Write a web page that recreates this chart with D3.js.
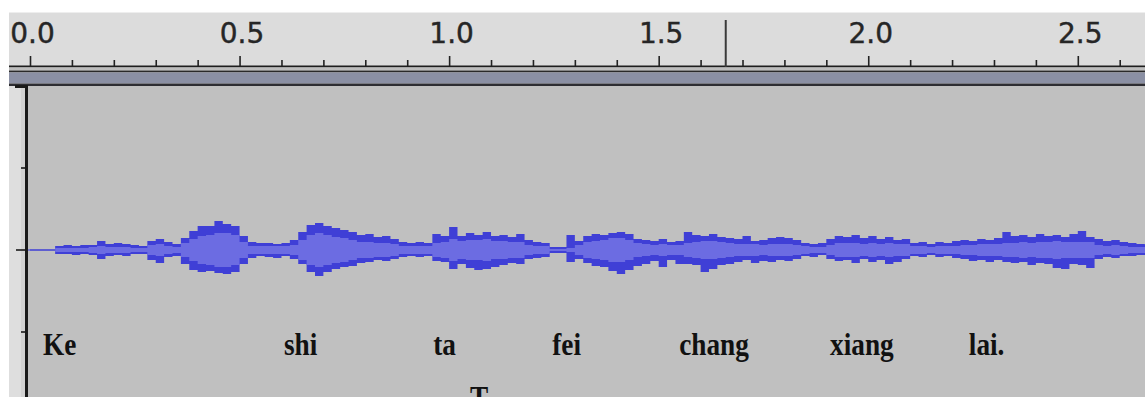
<!DOCTYPE html>
<html>
<head>
<meta charset="utf-8">
<script src="https://cdn.jsdelivr.net/npm/d3@7"></script>
<style>
  html, body { margin: 0; padding: 0; background: #fff; }
  svg { display: block; }
</style>
</head>
<body>
<svg id="chart" width="1145" height="397"></svg>
<script>
// Ruler ticks (seconds)
const majorTicks = [0, 0.5, 1.0, 1.5, 2.0, 2.5];
const tickLabels = ["0.0", "0.5", "1.0", "1.5", "2.0", "2.5"];
const minorTicks = [0.1, 0.2, 0.3, 0.4, 0.6, 0.7, 0.8, 0.9, 1.1, 1.2, 1.3, 1.4, 1.6, 1.7, 1.8, 1.9, 2.1, 2.2, 2.3, 2.4, 2.6];
const cursorTime = 1.66;

// Amplitude ticks
const ampTicks = [1, 0.5, 0, -0.5, -1];

// Waveform envelope, one value per 0.02 s block
const sampleStep = 0.02;
const peakMax = [
  .003, .003, .003, .024, .030, .024, .030, .030, .055, .037,
  .043, .037, .030, .024, .055, .067, .049, .037, .073, .116,
  .146, .146, .177, .159, .146, .085, .049, .043, .043, .037,
  .043, .061, .110, .152, .165, .146, .134, .122, .110, .091,
  .098, .079, .085, .067, .049, .043, .049, .043, .098, .085,
  .140, .085, .104, .091, .110, .085, .091, .079, .098, .061,
  .049, .043, .018, .018, .091, .055, .085, .098, .091, .104,
  .110, .098, .067, .061, .055, .067, .049, .055, .110, .091,
  .085, .098, .079, .073, .067, .085, .055, .061, .073, .079,
  .073, .061, .043, .037, .043, .067, .085, .079, .091, .073,
  .085, .067, .079, .061, .067, .043, .049, .037, .049, .043,
  .055, .061, .055, .067, .061, .073, .110, .085, .091, .079,
  .098, .085, .091, .079, .098, .116, .079, .067, .055, .061,
  .049, .043, .037, .030
];
const peakMin = [
  -.003, -.003, -.003, -.024, -.024, -.030, -.024, -.030, -.055, -.037,
  -.030, -.037, -.024, -.024, -.061, -.079, -.043, -.037, -.085, -.122,
  -.134, -.128, -.140, -.146, -.134, -.085, -.049, -.037, -.043, -.049,
  -.037, -.055, -.085, -.134, -.159, -.134, -.116, -.104, -.098, -.079,
  -.073, -.061, -.067, -.055, -.043, -.037, -.043, -.037, -.067, -.073,
  -.116, -.085, -.110, -.122, -.116, -.104, -.091, -.079, -.085, -.055,
  -.049, -.043, -.018, -.018, -.073, -.055, -.079, -.098, -.104, -.128,
  -.146, -.122, -.098, -.085, -.067, -.104, -.061, -.085, -.085, -.091,
  -.134, -.116, -.091, -.085, -.073, -.061, -.079, -.067, -.073, -.061,
  -.067, -.055, -.037, -.043, -.030, -.055, -.067, -.061, -.079, -.055,
  -.073, -.061, -.085, -.073, -.055, -.037, -.043, -.030, -.043, -.037,
  -.049, -.055, -.067, -.061, -.073, -.061, -.073, -.079, -.073, -.091,
  -.079, -.085, -.110, -.116, -.085, -.091, -.110, -.055, -.043, -.049,
  -.037, -.037, -.030, -.030
];
const rms = [
  0, 0, 0, .012, .012, .012, .012, .018, .024, .018,
  .018, .018, .012, .012, .030, .037, .024, .018, .043, .067,
  .085, .091, .104, .104, .091, .049, .024, .024, .024, .024,
  .024, .030, .061, .091, .104, .091, .079, .073, .061, .049,
  .049, .043, .043, .037, .024, .024, .024, .024, .043, .049,
  .067, .055, .061, .061, .067, .055, .055, .049, .049, .030,
  .024, .024, .006, .006, .012, .030, .049, .055, .061, .073,
  .073, .061, .043, .037, .030, .037, .030, .030, .043, .049,
  .055, .055, .049, .043, .037, .037, .037, .030, .037, .037,
  .037, .030, .024, .018, .018, .030, .043, .043, .043, .037,
  .043, .037, .043, .037, .037, .024, .024, .018, .024, .024,
  .024, .030, .030, .037, .037, .037, .043, .043, .049, .043,
  .049, .049, .055, .049, .049, .049, .049, .030, .024, .030,
  .024, .018, .018, .018
];

// Syllable annotations (time in seconds where the word starts)
const syllables = ["Ke", "shi", "ta", "fei", "chang", "xiang", "lai."];
const syllableTimes = [0.031, 0.606, 0.962, 1.246, 1.549, 1.909, 2.24];

const W = 1145, H = 397;
const svg = d3.select("#chart");

const x = d3.scaleLinear().domain([0, 2.5]).range([30, 1077.8]);
const y = d3.scaleLinear().domain([-1, 1]).range([414, 86]);

// ---- backgrounds
svg.append("rect").attr("width", W).attr("height", H).attr("fill", "#ffffff");
svg.append("rect").attr("x", 9).attr("y", 12).attr("width", W - 9).attr("height", 1)
  .attr("fill", "#eeeeee");
svg.append("rect").attr("x", 9).attr("y", 13).attr("width", W - 9).attr("height", 53)
  .attr("fill", "#dcdcdc");
// track area
svg.append("rect").attr("x", 9).attr("y", 86).attr("width", 18).attr("height", H - 86)
  .attr("fill", "#dedede");
svg.append("rect").attr("x", 21).attr("y", 86).attr("width", 4).attr("height", H - 86)
  .attr("fill", "#d2d2d2");
svg.append("rect").attr("x", 27).attr("y", 86).attr("width", W - 27).attr("height", H - 86)
  .attr("fill", "#c0c0c0");

// ---- ruler bands
svg.append("rect").attr("x", 9).attr("y", 65.5).attr("width", W - 9).attr("height", 2).attr("fill", "#1e1e1e");
svg.append("rect").attr("x", 9).attr("y", 67.5).attr("width", W - 9).attr("height", 3).attr("fill", "#bdbdbd");
svg.append("rect").attr("x", 9).attr("y", 70.5).attr("width", W - 9).attr("height", 2).attr("fill", "#2a2a2a");
svg.append("rect").attr("x", 9).attr("y", 72.5).attr("width", W - 9).attr("height", 11).attr("fill", "#8b90a4");
svg.append("rect").attr("x", 9).attr("y", 83.5).attr("width", W - 9).attr("height", 2.5).attr("fill", "#2e2e33");

// ---- ruler axis
const majorAxis = d3.axisTop(x).tickValues(majorTicks).tickSize(10).tickFormat("");
const minorAxis = d3.axisTop(x).tickValues(minorTicks).tickSize(6).tickFormat("");
[majorAxis, minorAxis].forEach(ax => {
  const g = svg.append("g").attr("transform", "translate(0,66)").call(ax);
  g.select(".domain").remove();
  g.selectAll(".tick line").attr("stroke", "#222").attr("stroke-width", 1.6);
});

svg.append("g").selectAll("text")
  .data(majorTicks)
  .join("text")
  .attr("x", d => x(d) + 2.5)
  .attr("y", 43)
  .attr("text-anchor", "middle")
  .attr("font-family", "DejaVu Sans, sans-serif")
  .attr("font-size", 28)
  .attr("fill", "#262626")
  .attr("stroke", "#262626")
  .attr("stroke-width", 0.4)
  .text((d, i) => tickLabels[i]);

// play cursor
svg.append("line")
  .attr("x1", x(cursorTime)).attr("x2", x(cursorTime))
  .attr("y1", 20).attr("y2", 67)
  .attr("stroke", "#3a3a3a").attr("stroke-width", 2);

// ---- waveform
const blocks = peakMax.map((v, i) => ({ t: i * sampleStep, max: v, min: peakMin[i], rms: rms[i] }));
const lastBlock = blocks[blocks.length - 1];
blocks.push({ ...lastBlock, t: blocks.length * sampleStep });

svg.append("defs").append("clipPath").attr("id", "trackClip")
  .append("rect").attr("x", 28).attr("y", 86).attr("width", W - 28).attr("height", H - 86);

const wave = svg.append("g").attr("clip-path", "url(#trackClip)");

const peakArea = d3.area()
  .curve(d3.curveStepAfter)
  .x(d => x(d.t))
  .y0(d => y(d.min))
  .y1(d => y(d.max));

const rmsArea = d3.area()
  .curve(d3.curveStepAfter)
  .x(d => x(d.t))
  .y0(d => y(-d.rms))
  .y1(d => y(d.rms));

wave.append("line")
  .attr("x1", 27).attr("x2", W)
  .attr("y1", y(0)).attr("y2", y(0))
  .attr("stroke", "#3f3fd6").attr("stroke-width", 1.2);

wave.append("path").datum(blocks).attr("d", peakArea).attr("fill", "#3f3fd6");
wave.append("path").datum(blocks).attr("d", rmsArea).attr("fill", "#6c6ce2");

// ---- amplitude axis (left)
svg.append("rect").attr("x", 15).attr("y", 85).attr("width", 12).attr("height", 3).attr("fill", "#1a1a1a");
svg.append("rect").attr("x", 25).attr("y", 85).attr("width", 3).attr("height", H - 85).attr("fill", "#1a1a1a");
svg.append("g").selectAll("line")
  .data(ampTicks.filter(d => y(d) > 100 && y(d) < H))
  .join("line")
  .attr("x1", d => d === 0 ? 16 : 21)
  .attr("x2", 27)
  .attr("y1", d => y(d)).attr("y2", d => y(d))
  .attr("stroke", "#1a1a1a").attr("stroke-width", 1.6);

// ---- syllable labels (condensed serif, like the original)
svg.append("g").selectAll("text")
  .data(syllables)
  .join("text")
  .attr("transform", (d, i) => `translate(${x(syllableTimes[i])},355) scale(0.88,1)`)
  .attr("font-family", "Liberation Serif, Times New Roman, serif")
  .attr("font-weight", "bold")
  .attr("font-size", 31)
  .attr("fill", "#111")
  .text(d => d);

// cut-off glyph at the bottom edge
svg.append("text")
  .attr("transform", `translate(${x(1.05)},408) scale(0.88,1)`)
  .attr("font-family", "Liberation Serif, Times New Roman, serif")
  .attr("font-weight", "bold")
  .attr("font-size", 31)
  .attr("fill", "#111")
  .text("T");
</script>
</body>
</html>
